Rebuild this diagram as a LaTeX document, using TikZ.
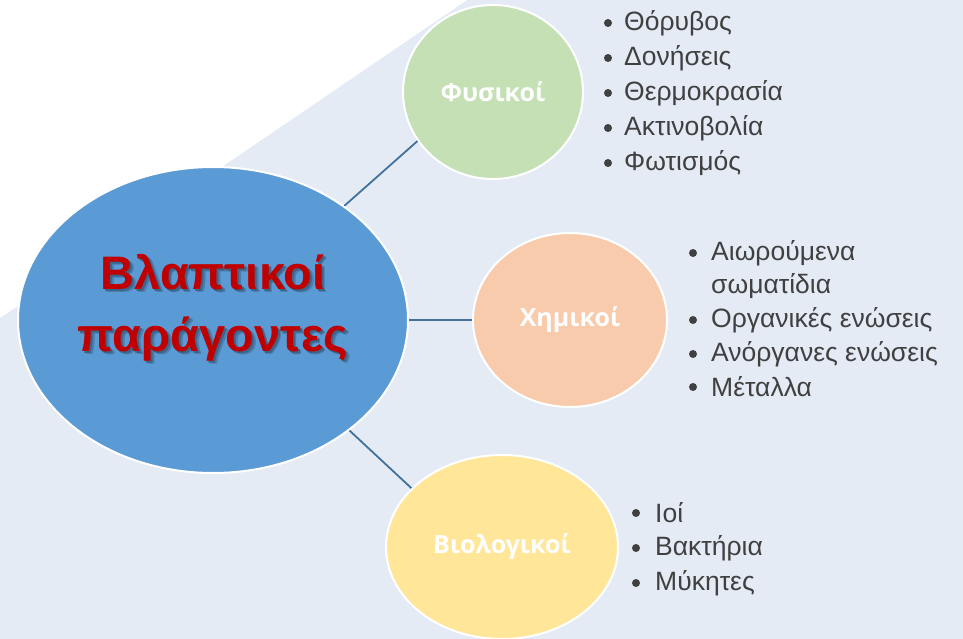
\documentclass[tikz,border=0pt]{standalone}
\usepackage{fontspec}
\setmainfont{Liberation Sans}
\newfontfamily\labfont{Open Sans}
\usetikzlibrary{shapes.geometric}
\definecolor{bgblue}{HTML}{E4EBF5}
\definecolor{mainblue}{HTML}{5B9BD5}
\definecolor{green1}{HTML}{C5E0B4}
\definecolor{orange1}{HTML}{F8CBAD}
\definecolor{yellow1}{HTML}{FFE699}
\definecolor{linkc}{HTML}{41719C}
\definecolor{titlered}{HTML}{C00000}
\definecolor{txtgray}{HTML}{404040}
\newcommand\shadowtxt[1]{\makebox[0pt][l]{\hspace{3.5pt}\raisebox{-3.5pt}{\textcolor{mainblue!82!black}{#1}}}\makebox[0pt][l]{\hspace{2pt}\raisebox{-2pt}{\textcolor{mainblue!65!black}{#1}}}#1}
\begin{document}
\begin{tikzpicture}[x=1pt,y=-1pt,
  bubble/.style={ellipse, draw=white, line width=2pt, inner sep=0pt},
  link/.style={draw=linkc, line width=1.8pt},
  lab/.style={text=white, font=\labfont\bfseries\fontsize{25}{30}\selectfont},
  itm/.style={anchor=west, text=txtgray, font=\fontsize{26.5}{30}\selectfont, inner sep=0pt},
  bul/.style={circle, fill=txtgray, minimum size=8pt, inner sep=0pt}]
\fill[bgblue] (0,0) rectangle (963,639);
\fill[white] (0,0) -- (467,0) -- (0,318) -- cycle;
\useasboundingbox (0,0) rectangle (963,639);
% nodes
\node[bubble, fill=mainblue, minimum width=390pt, minimum height=306pt] (main) at (213,320) {};
\node[bubble, fill=green1, minimum width=180pt, minimum height=174pt] (fys) at (493,92) {};
\node[bubble, fill=orange1, minimum width=194pt, minimum height=174pt] (xim) at (570,320) {};
\node[bubble, fill=yellow1, minimum width=232pt, minimum height=184pt] (bio) at (502,547) {};
\draw[link] (main.41) -- (fys.213);
\draw[link] (main.east) -- (xim.west);
\draw[link] (main.-39) -- (bio.147);
\node[lab] (lfys) at (fys.center) {Φυσικοί};
\node[lab] (lxim) at (xim.center) {Χημικοί};
\node[lab] (lbio) at (bio.center) {Βιολογικοί};
% title
\node[text=titlered, align=center, font=\bfseries\fontsize{47}{62}\selectfont] (title) at (213,309) {\shadowtxt{Βλαπτικοί}\\\shadowtxt{παράγοντες}};
% list 1
\foreach \t [count=\i] in {Θόρυβος,Δονήσεις,Θερμοκρασία,Ακτινοβολία,Φωτισμός}{
  \node[bul] (b1\i) at (608,{23+35*(\i-1)}) {};
  \node[itm] (t1\i) at (624,{23+35*(\i-1)}) {\t};
}
% list 2
\node[bul] (b21) at (693,253) {};
\node[itm] (t21) at (711,253) {Αιωρούμενα};
\node[itm] (t21b) at (711,286) {σωματίδια};
\node[bul] (b22) at (693,320) {};
\node[itm] (t22) at (711,320) {Οργανικές ενώσεις};
\node[bul] (b23) at (693,354) {};
\node[itm] (t23) at (711,354) {Ανόργανες ενώσεις};
\node[bul] (b24) at (693,387) {};
\node[itm] (t24) at (711,387) {Μέταλλα};
% list 3
\foreach \t [count=\i] in {Ιοί,Βακτήρια,Μύκητες}{
  \node[bul] (b3\i) at (636,{513+35*(\i-1)}) {};
  \node[itm] (t3\i) at (655,{513+35*(\i-1)}) {\t};
}
\end{tikzpicture}
\end{document}
